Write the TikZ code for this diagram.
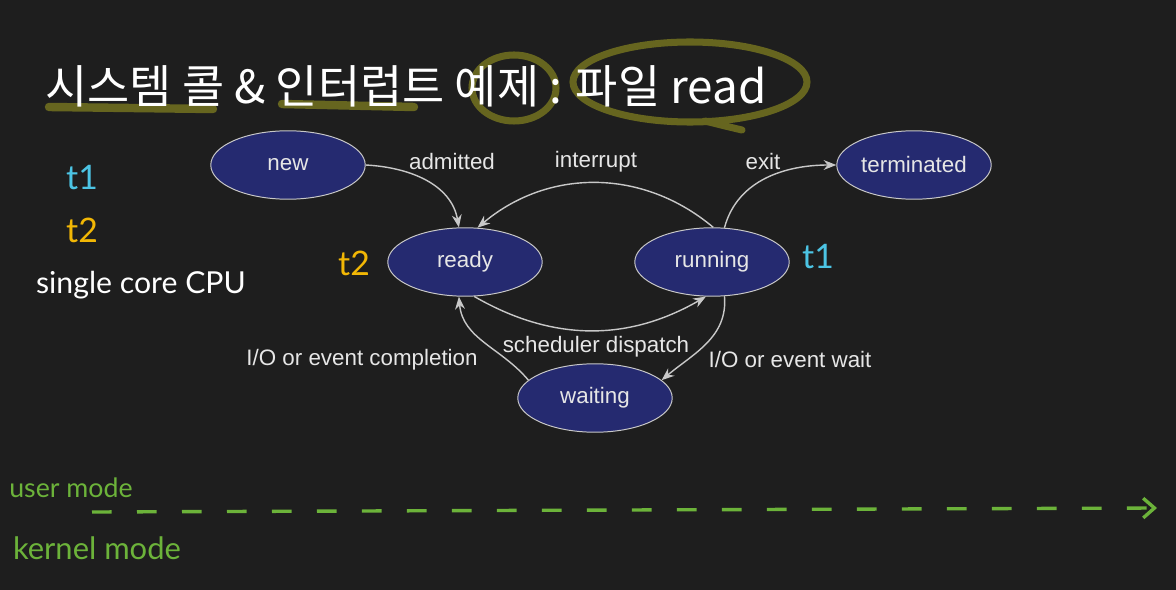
\documentclass[tikz,border=0pt]{standalone}
\usepackage{fontspec}
\setmainfont{Liberation Sans}
\newfontfamily\krfont{Noto Sans CJK KR}
\newfontfamily\handfont{Lato}
\usetikzlibrary{arrows.meta,shapes.geometric}
\definecolor{bgdark}{HTML}{1E1E1E}
\definecolor{stnavy}{HTML}{252A70}
\definecolor{stline}{HTML}{C8C8C8}
\definecolor{sttext}{HTML}{E6E6E6}
\definecolor{hlolive}{HTML}{66651F}
\definecolor{pencyan}{HTML}{4CC4E4}
\definecolor{penyellow}{HTML}{F2B705}
\definecolor{pengreen}{HTML}{6CB33A}

\begin{document}
\begin{tikzpicture}[x=0.025cm,y=0.025cm,
  state/.style={ellipse,fill=stnavy,draw=stline,line width=0.7pt,
                minimum width=3.86cm,minimum height=1.71cm,inner sep=0pt,
                text=sttext,font=\fontsize{15.9}{18}\selectfont},
  lbl/.style={text=sttext,font=\fontsize{15.9}{18}\selectfont,inner sep=0pt},
  arr/.style={-{Stealth[length=9pt,width=7pt]},line width=1pt,draw=stline},
  hand/.style={font=\handfont\fontsize{24}{26}\selectfont,inner sep=0pt},
  hilite/.style={draw=hlolive,line width=6pt,line cap=round}
]

  % ---- Background -----------------------------------------------
  \fill[bgdark] (0,0) rectangle (1176,-590);

  % ---- Title with pen highlights ------------------------------------
  \draw[hilite] (49,-107) -- (213,-109);
  \draw[hilite] (282,-104) -- (414,-107);
  \draw[hilite,line width=5pt] (514,-88) ellipse [x radius=42, y radius=33];
  \draw[hilite,line width=5pt] (690,-82) ellipse [x radius=117, y radius=40];
  \draw[hilite,line width=5pt] (705,-121) .. controls (725,-126) .. (742,-130);

  \node[font=\krfont\fontsize{32.6}{36}\selectfont,text=white]
    (title) at (406,-86) {시스템 콜 \& 인터럽트 예제 : 파일 read};

  % ---- Process states -------------------------------------------
  \node[state] (new)  at (288,-165) {new};
  \node[state] (ready) at (465,-262) {ready};
  \node[state] (running) at (712,-262) {running};
  \node[state] (terminated) at (914,-165) {terminated};
  \node[state] (waiting) at (595,-398) {waiting};

  % ---- Transitions ----------------------------------------------
  \draw[arr] (new.east) to[out=-3,in=100] (ready.100);
  \draw[arr] (running.88) to[out=140,in=40] (ready.70);
  \draw[arr] (running.70) to[out=75,in=180] (terminated.west);
  \draw[arr] (ready.-75) to[out=-30,in=-150] (running.-100);
  \draw[arr] (running.-70) to[out=-85,in=40] (waiting.15);
  \draw[arr] (waiting.165) to[out=130,in=-85] (ready.-100);

  \node[lbl] (admitted) at (452,-162) {admitted};
  \node[lbl] (interrupt) at (596,-162) {interrupt};
  \node[lbl] (exit) at (763,-162) {exit};
  \node[lbl] (dispatch) at (596,-347) {scheduler dispatch};
  \node[lbl] (iodone) at (362,-360) {I/O or event completion};
  \node[lbl] (iowait) at (790,-360) {I/O or event wait};

  % ---- Hand notes -----------------------------------------------
  \node[hand,text=pencyan] (t1note) at (82,-178) {t1};
  \node[hand,text=penyellow] (t2note) at (82,-230) {t2};
  \node[hand,text=white,font=\handfont\fontsize{21.5}{24}\selectfont]
    (cpu) at (141,-285) {single core CPU};
  \node[hand,text=penyellow] (t2mark) at (354,-263) {t2};
  \node[hand,text=pencyan] (t1mark) at (818,-257) {t1};

  % ---- Mode boundary --------------------------------------------
  \node[hand,text=pengreen,font=\handfont\fontsize{19}{21}\selectfont]
    (user) at (71,-488) {user mode};
  \node[hand,text=pengreen,font=\handfont\fontsize{22}{24}\selectfont]
    (kernel) at (97,-548) {kernel mode};
  \coordinate (lineA) at (92,-512);
  \coordinate (lineB) at (1157,-508);
  \draw[pengreen,line width=2.4pt,dash pattern=on 14pt off 18pt,
        -{Straight Barb[length=8pt,width=14pt]}] (lineA) -- (lineB);

\end{tikzpicture}
\end{document}
